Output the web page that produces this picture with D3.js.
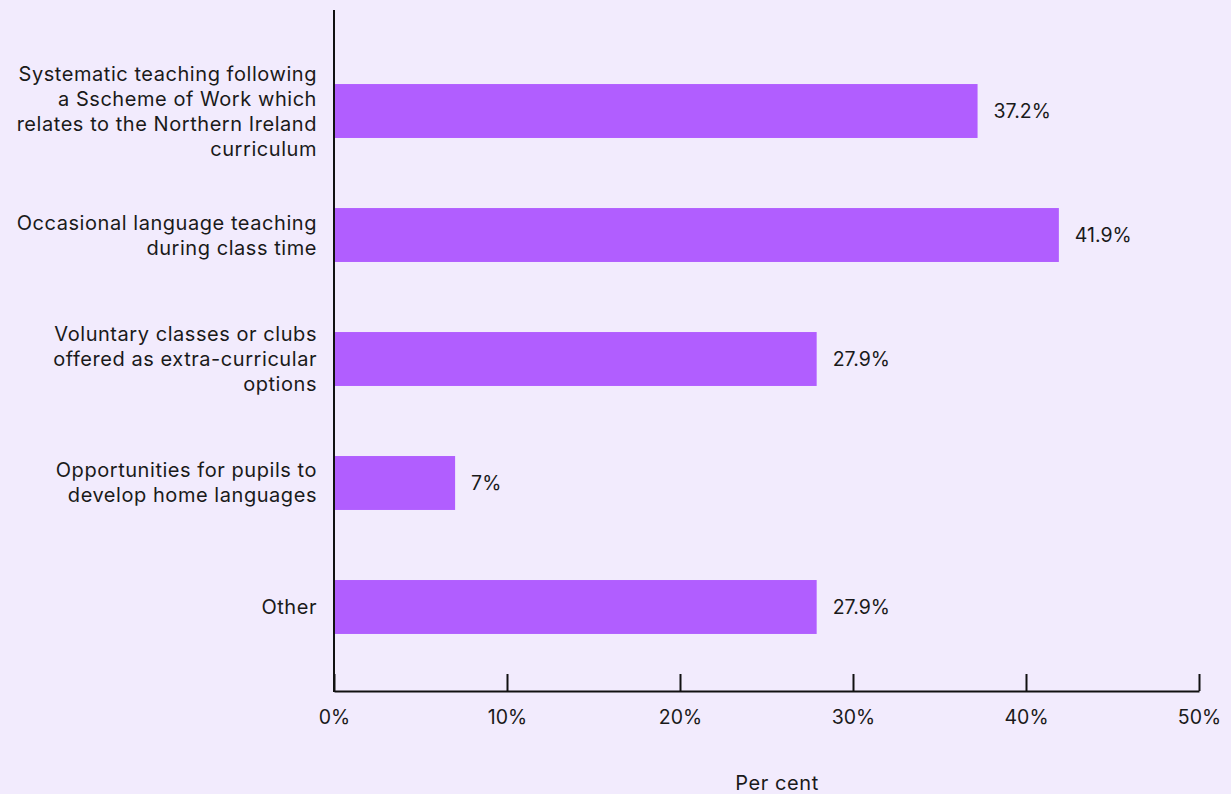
<!DOCTYPE html>
<html><head><meta charset="utf-8">
<script src="https://cdn.jsdelivr.net/npm/d3@7"></script>
<style>
html,body{margin:0;padding:0;background:#f2ebfd;}
svg{display:block;font-family:Inter, "Noto Sans", sans-serif;}
</style></head>
<body>
<svg id="chart" width="1231" height="794"></svg>
<script>
const categories = [
  "Systematic teaching following a Sscheme of Work which relates to the Northern Ireland curriculum",
  "Occasional language teaching during class time",
  "Voluntary classes or clubs offered as extra-curricular options",
  "Opportunities for pupils to develop home languages",
  "Other"
];
const labelLines = [
  ["Systematic teaching following","a Sscheme of Work which","relates to the Northern Ireland","curriculum"],
  ["Occasional language teaching","during class time"],
  ["Voluntary classes or clubs","offered as extra-curricular","options"],
  ["Opportunities for pupils to","develop home languages"],
  ["Other"]
];
const values = [37.2, 41.9, 27.9, 7, 27.9];
const valueLabels = ["37.2%","41.9%","27.9%","7%","27.9%"];
const tickValues = [0,10,20,30,40,50];
const tickLabels = ["0%","10%","20%","30%","40%","50%"];
const axisTitle = "Per cent";

const svg = d3.select("#chart");
const x0 = 334, x1 = 1199, yTop = 10, yBot = 691;
const x = d3.scaleLinear().domain([0,50]).range([x0,x1]);
const y = d3.scaleBand().domain(categories).range([27, yBot]).paddingInner(0.565).paddingOuter(0.46);

const textColor = "#1a1a1a";
const fs = "19.5px";
const fsL = "20px";

// bars
svg.append("g").selectAll("rect").data(values).join("rect")
  .attr("x", x(0))
  .attr("y", (d,i)=>y(categories[i]))
  .attr("width", d=>x(d)-x(0))
  .attr("height", y.bandwidth())
  .attr("fill", "#b15eff");

// value labels
svg.append("g").selectAll("text").data(values).join("text")
  .attr("x", d=>x(d)+16)
  .attr("y", (d,i)=>y(categories[i])+y.bandwidth()/2)
  .attr("dy","0.35em")
  .attr("font-size",fs)
  .attr("fill",textColor)
  .text((d,i)=>valueLabels[i]);

// category labels
const lh = 25;
const lg = svg.append("g");
categories.forEach((c,i)=>{
  const lines = labelLines[i];
  const cy = y(c)+y.bandwidth()/2;
  const t = lg.append("text").attr("text-anchor","end").attr("font-size",fsL).attr("letter-spacing","0.55px").attr("fill",textColor);
  lines.forEach((ln,j)=>{
    t.append("tspan").attr("x", 317).attr("y", cy + (j-(lines.length-1)/2)*lh).attr("dy","0.35em").text(ln);
  });
});

// x axis
const xAxis = d3.axisBottom(x).tickValues(tickValues).tickFormat((d,i)=>tickLabels[i]).tickSize(-17).tickPadding(0).tickSizeOuter(0);
const gx = svg.append("g").attr("transform",`translate(0,${yBot})`).call(xAxis);
gx.select(".domain").attr("stroke","#111").attr("stroke-width",2);
gx.selectAll(".tick line").attr("stroke","#111").attr("stroke-width",2);
gx.selectAll(".tick text").attr("y",26).attr("dy","0.35em").attr("font-size",fs).attr("fill",textColor).attr("font-family","Inter, 'Noto Sans', sans-serif");

// y axis line
svg.append("line").attr("x1",x0).attr("x2",x0).attr("y1",yTop).attr("y2",yBot+1).attr("stroke","#111").attr("stroke-width",2);

// axis title
svg.append("text").attr("x",777).attr("y",783).attr("dy","0.35em").attr("text-anchor","middle").attr("font-size",fsL).attr("letter-spacing","0.6px").attr("fill",textColor).text(axisTitle);
</script>
</body></html>
